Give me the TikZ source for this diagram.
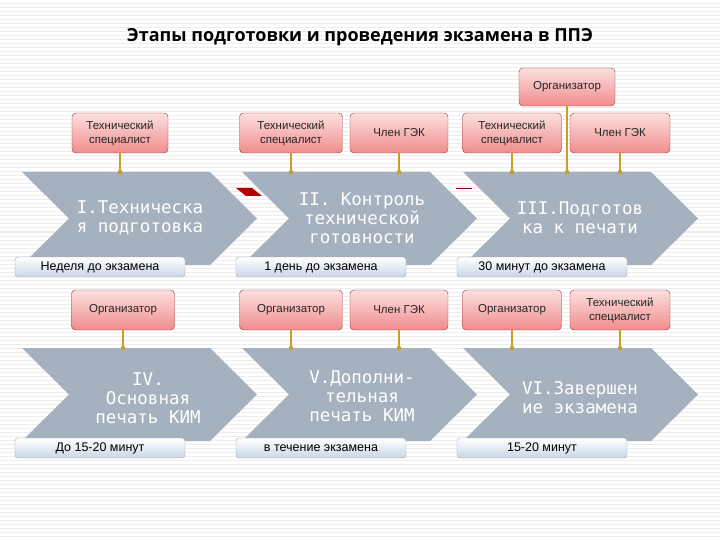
\documentclass[tikz,border=0pt]{standalone}
\usepackage{fontspec}
\setmainfont{Liberation Sans}
\newfontfamily\chevfont{DejaVu Sans Mono}
\newfontfamily\titlefont{Open Sans}
\definecolor{chev}{HTML}{A5B1BF}
\definecolor{pinktop}{HTML}{FCE0E0}
\definecolor{pinkbot}{HTML}{F08C8C}
\definecolor{pinkedge}{HTML}{A03030}
\definecolor{bluetop}{HTML}{FFFFFF}
\definecolor{bluebot}{HTML}{C9D6E6}
\definecolor{stem}{HTML}{C8A020}
\definecolor{stripe}{HTML}{EDEDED}
\tikzset{
  role/.style={draw=pinkedge, rounded corners=4pt, top color=pinktop, bottom color=pinkbot, inner sep=0pt, align=center, font=\fontsize{11.5}{14}\selectfont, text=black!85},
  when/.style={draw=gray!70, rounded corners=3pt, top color=bluetop, bottom color=bluebot, inner sep=0pt, align=center, font=\fontsize{12.5}{14}\selectfont},
  chevtext/.style={text=white, align=center, font=\chevfont\fontsize{17.5}{19}\selectfont},
  stemline/.style={stem, line width=1.4pt},
  dot/.style={circle, fill=stem, inner sep=0pt, minimum size=4.5pt}
}
\newcommand{\chevron}[2]{% x0, ytop
  \fill[chev] (#1,#2) -- ++(188,0) -- ++(47,46.5) -- ++(-47,46.5) -- ++(-188,0) -- ++(47,-46.5) -- cycle;}
\begin{document}
\begin{tikzpicture}[x=1pt,y=-1pt]
\useasboundingbox (0,0) rectangle (720,540);
\fill[white] (0,0) rectangle (720,540);
\foreach \i in {0,4,...,540} \draw[stripe, line width=1pt] (0,\i) -- (720,\i);
\node[font=\titlefont\bfseries\fontsize{18}{21}\selectfont] (title) at (360,37) {Этапы подготовки и проведения экзамена в ППЭ};
\chevron{22}{172}
\chevron{242}{172}
\chevron{463}{172}
\chevron{22}{348}
\chevron{242}{348}
\chevron{463}{348}
\fill[red!70!black] (236,188) -- (252,188) -- (262,196) -- (246,196) -- cycle;
\draw[red!60!black, line width=0.6pt] (456,188) -- (472,188);
\node[chevtext] (c1) at (140,218) {I.Техническа\\я подготовка};
\node[chevtext] (c2) at (362,218) {II. Контроль\\технической\\готовности};
\node[chevtext] (c3) at (580,218) {III.Подготов\\ка к печати};
\node[chevtext] (c4) at (148,398) {IV.\\Основная\\печать КИМ};
\node[chevtext] (c5) at (362,396) {V.Дополни-\\тельная\\печать КИМ};
\node[chevtext] (c6) at (580,398) {VI.Завершен\\ие экзамена};
\node[role, minimum width=96pt, minimum height=38pt] (org0) at (567,87) {Организатор};
\node[role, minimum width=96pt, minimum height=40pt] (r1) at (120,133) {Технический\\специалист};
\node[role, minimum width=103pt, minimum height=40pt] (r2) at (291,133) {Технический\\специалист};
\node[role, minimum width=98pt, minimum height=40pt] (r3) at (399,133) {Член ГЭК};
\node[role, minimum width=99pt, minimum height=40pt] (r4) at (512,133) {Технический\\специалист};
\node[role, minimum width=100pt, minimum height=40pt] (r5) at (620,133) {Член ГЭК};
\coordinate (d1) at (120,172); \coordinate (d2) at (291,172); \coordinate (d3) at (399,172);
\coordinate (d4) at (512,172); \coordinate (d0) at (567,172); \coordinate (d5) at (620,172);
\foreach \r/\d in {r1/d1,r2/d2,r3/d3,r4/d4,r5/d5,org0/d0} {
  \draw[stemline] (\r.south -| \d) -- (\d); \node[dot] at (\d) {};}
\node[role, minimum width=103pt, minimum height=40pt] (s1) at (123,310) {Организатор};
\node[role, minimum width=103pt, minimum height=40pt] (s2) at (291,310) {Организатор};
\node[role, minimum width=98pt, minimum height=40pt] (s3) at (399,310) {Член ГЭК};
\node[role, minimum width=99pt, minimum height=40pt] (s4) at (512,310) {Организатор};
\node[role, minimum width=100pt, minimum height=40pt] (s5) at (620,310) {Технический\\специалист};
\coordinate (e1) at (123,348); \coordinate (e2) at (291,348); \coordinate (e3) at (399,348);
\coordinate (e4) at (512,348); \coordinate (e5) at (620,348);
\foreach \r/\d in {s1/e1,s2/e2,s3/e3,s4/e4,s5/e5} {
  \draw[stemline] (\r.south) -- (\d); \node[dot] at (\d) {};}
\node[when, minimum width=170pt, minimum height=20pt] (t1) at (100,267) {Неделя до экзамена};
\node[when, minimum width=170pt, minimum height=20pt] (t2) at (321,267) {1 день до экзамена};
\node[when, minimum width=170pt, minimum height=20pt] (t3) at (542,267) {30 минут до экзамена};
\node[when, minimum width=170pt, minimum height=20pt] (t4) at (100,448) {До 15-20 минут};
\node[when, minimum width=170pt, minimum height=20pt] (t5) at (321,448) {в течение экзамена};
\node[when, minimum width=170pt, minimum height=20pt] (t6) at (542,448) {15-20 минут};
\end{tikzpicture}
\end{document}
